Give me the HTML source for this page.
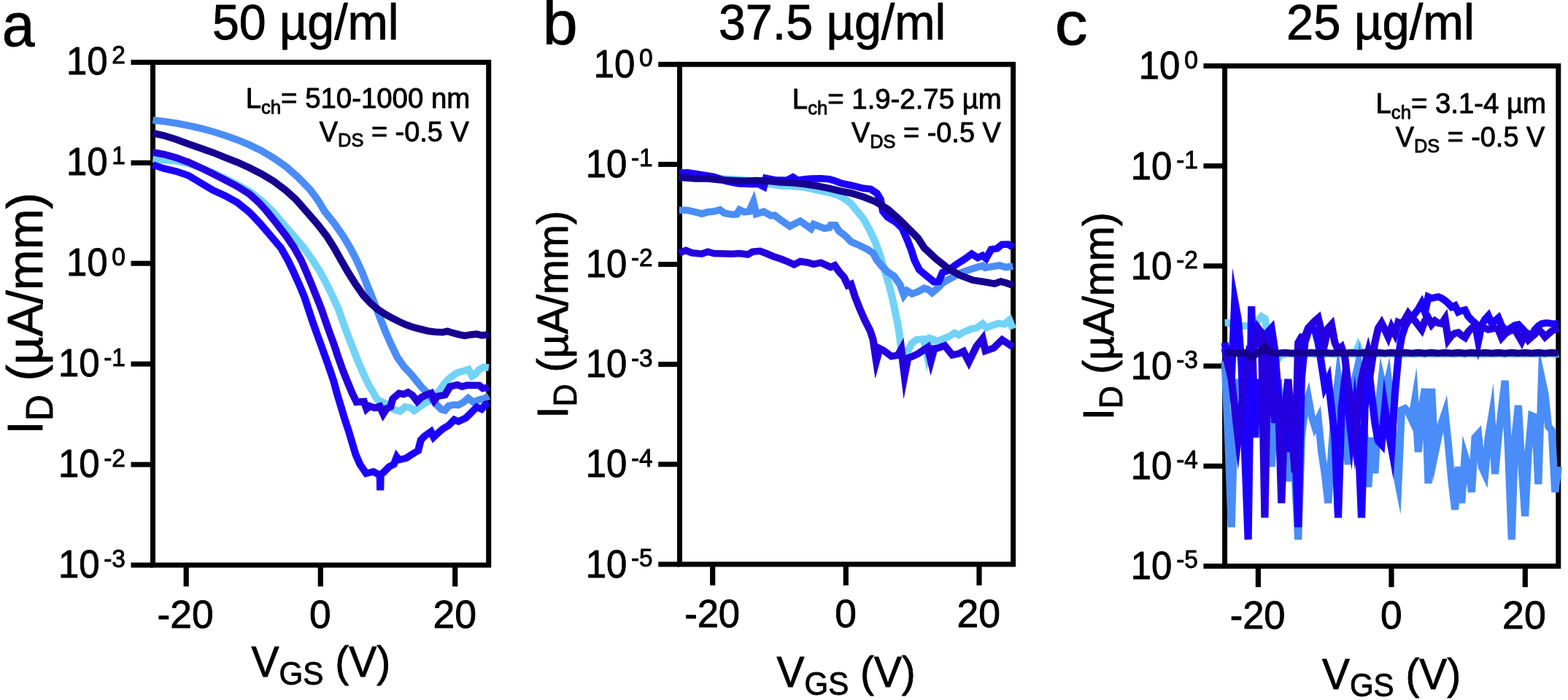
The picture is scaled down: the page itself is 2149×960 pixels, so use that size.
<!DOCTYPE html>
<html lang="en"><head><meta charset="utf-8"><title>Transfer curves</title>
<style>
html,body{margin:0;padding:0;background:#fff;}
body{width:2149px;height:960px;overflow:hidden;}
svg{display:block;font-family:'Liberation Sans', Arial, Helvetica, sans-serif;filter:blur(0.45px);}
</style></head>
<body>
<svg width="2149" height="960" viewBox="0 0 2149 960">
<rect x="-5" y="-5" width="2159" height="970" fill="#ffffff"/>
<g stroke="#000" stroke-width="7.0" fill="none">
<rect x="209.5" y="85.4" width="460.20" height="689.60"/>
<line x1="179.5" y1="85.40" x2="209.5" y2="85.40"/>
<line x1="179.5" y1="223.32" x2="209.5" y2="223.32"/>
<line x1="179.5" y1="361.24" x2="209.5" y2="361.24"/>
<line x1="179.5" y1="499.16" x2="209.5" y2="499.16"/>
<line x1="179.5" y1="637.08" x2="209.5" y2="637.08"/>
<line x1="179.5" y1="775.00" x2="209.5" y2="775.00"/>
<line x1="255.2" y1="775.0" x2="255.2" y2="804.3" stroke-width="7.2"/>
<line x1="439.3" y1="775.0" x2="439.3" y2="804.3" stroke-width="7.2"/>
<line x1="623.7" y1="775.0" x2="623.7" y2="804.3" stroke-width="7.2"/>
</g>
<g stroke="#000" stroke-width="7.0" fill="none">
<rect x="931.5" y="88.3" width="457.10" height="685.60"/>
<line x1="902.25" y1="88.30" x2="931.5" y2="88.30"/>
<line x1="902.25" y1="225.42" x2="931.5" y2="225.42"/>
<line x1="902.25" y1="362.54" x2="931.5" y2="362.54"/>
<line x1="902.25" y1="499.66" x2="931.5" y2="499.66"/>
<line x1="902.25" y1="636.78" x2="931.5" y2="636.78"/>
<line x1="902.25" y1="773.90" x2="931.5" y2="773.90"/>
<line x1="976.7" y1="773.9" x2="976.7" y2="802.8" stroke-width="7.2"/>
<line x1="1159.3" y1="773.9" x2="1159.3" y2="802.8" stroke-width="7.2"/>
<line x1="1342.0" y1="773.9" x2="1342.0" y2="802.8" stroke-width="7.2"/>
</g>
<g stroke="#000" stroke-width="7.0" fill="none">
<rect x="1678.6" y="90.4" width="457.20" height="686.00"/>
<line x1="1649.4" y1="90.40" x2="1678.6" y2="90.40"/>
<line x1="1649.4" y1="227.60" x2="1678.6" y2="227.60"/>
<line x1="1649.4" y1="364.80" x2="1678.6" y2="364.80"/>
<line x1="1649.4" y1="502.00" x2="1678.6" y2="502.00"/>
<line x1="1649.4" y1="639.20" x2="1678.6" y2="639.20"/>
<line x1="1649.4" y1="776.40" x2="1678.6" y2="776.40"/>
<line x1="1724.4" y1="776.4" x2="1724.4" y2="805.2" stroke-width="7.2"/>
<line x1="1907.0" y1="776.4" x2="1907.0" y2="805.2" stroke-width="7.2"/>
<line x1="2090.3" y1="776.4" x2="2090.3" y2="805.2" stroke-width="7.2"/>
</g>
<g fill="none" stroke-linejoin="miter" stroke-miterlimit="10" stroke-linecap="butt" stroke-width="9.6" transform="scale(1.06,1)">
<polyline points="197.6,218.0 212.3,219.5 228.0,220.8 243.7,224.5 259.4,230.0 275.2,236.8 290.8,244.7 306.6,253.0 322.4,262.5 338.0,275.0 353.0,290.5 366.0,306.7 379.7,323.3 393.1,340.0 404.1,356.7 414.2,373.3 422.6,390.0 430.2,406.7 437.3,423.3 442.9,440.0 448.6,456.7 454.7,473.3 460.8,490.0 467.5,506.7 474.5,523.3 481.6,536.7 487.8,547.9 498.4,553.3 509.4,561.7 517.2,564.0 523.7,557.9 529.9,559.0 535.6,563.3 542.5,558.0 550.0,552.5 560.4,546.5 569.2,534.0 575.5,525.0 581.8,518.3 588.0,513.3 594.3,510.0 600.7,508.3 605.8,506.6 610.4,515.7 614.7,513.2 619.6,506.8 625.8,503.4 632.0,504.2" stroke="#72d3f8"/>
<polyline points="197.6,164.7 212.3,166.5 228.0,169.0 243.7,172.2 259.4,176.0 275.2,180.5 290.8,185.8 306.6,191.7 322.4,198.7 338.0,206.7 353.8,216.7 369.5,228.3 385.2,243.0 400.9,260.0 411.3,275.0 419.8,290.0 432.4,306.7 443.4,323.3 452.8,340.0 461.0,356.7 468.1,373.3 474.3,390.0 480.7,406.7 486.8,423.3 492.9,440.0 499.1,456.7 506.1,473.3 513.7,490.0 522.6,503.3 531.6,513.3 544.3,530.0 551.9,538.3 558.2,546.7 564.4,555.0 570.8,561.6 575.3,562.8 580.3,556.6 586.5,555.0 592.7,555.6 599.1,551.7 605.4,546.0 611.7,551.2 619.5,548.3 625.8,546.7 632.0,543.3" stroke="#4a8df8"/>
<polyline points="197.6,226.0 212.3,231.2 228.0,235.0 243.7,240.8 259.4,250.8 275.2,260.8 290.8,268.3 306.6,277.5 322.4,291.0 336.5,306.7 349.8,323.3 363.2,340.0 372.2,356.7 379.7,373.3 386.8,390.0 393.4,406.7 398.6,423.3 403.8,440.0 409.4,456.7 415.1,473.3 420.8,490.0 426.4,506.7 431.6,523.3 435.8,540.0 440.6,556.7 445.3,573.3 450.5,590.0 455.2,606.7 459.9,623.3 465.6,637.0 473.5,649.3 482.7,646.9 488.2,650.0 491.3,651.0 491.7,672.3 492.1,650.0 495.3,648.5 503.1,640.0 509.3,636.6 513.0,626.7 515.8,630.6 525.2,628.3 534.6,621.7 540.6,618.1 544.2,603.4 548.8,598.3 557.2,591.9 560.7,599.5 566.0,594.2 572.4,588.3 580.2,583.3 587.4,575.6 592.7,578.0 602.2,573.3 608.5,566.7 616.4,558.2 622.5,561.0 628.2,554.3 632.0,553.3" stroke="#1c00ff"/>
<polyline points="197.6,208.7 212.3,211.7 228.0,216.3 243.7,222.5 259.4,230.0 275.2,238.3 290.8,246.7 306.6,255.5 322.4,266.0 334.9,278.0 345.1,290.0 357.7,306.7 369.8,323.3 380.5,340.0 389.4,356.7 396.2,373.3 402.8,390.0 409.2,406.7 415.4,423.3 420.8,440.0 426.4,456.7 432.1,473.3 437.3,490.0 442.9,506.7 449.1,523.3 455.7,540.0 461.0,551.4 470.6,550.6 474.0,560.7 478.0,556.9 484.2,559.4 491.0,557.2 495.5,567.6 500.1,560.1 504.9,558.1 507.9,546.8 515.9,539.4 522.0,540.8 527.5,538.0 533.0,541.7 539.5,550.4 544.8,545.0 551.9,541.2 557.4,539.1 561.6,549.1 566.1,543.4 575.3,541.7 581.9,530.2 591.2,527.7 597.5,530.2 603.8,528.3 619.5,528.5 624.3,532.7 632.0,531.3" stroke="#2400e0"/>
<polyline points="197.6,182.5 212.3,186.0 228.0,191.3 243.7,197.5 259.4,203.3 275.2,209.2 290.8,215.8 306.6,222.5 322.4,230.0 338.0,238.5 353.8,248.5 369.5,261.0 382.1,273.0 396.2,290.0 409.9,306.7 422.2,323.3 432.1,340.0 441.0,356.7 450.0,373.3 459.9,390.0 469.8,405.0 479.2,416.0 488.7,424.5 498.1,431.0 507.5,436.5 517.0,441.5 525.5,445.5 534.6,449.0 544.1,451.5 553.5,454.0 562.9,455.2 572.4,455.7 578.6,454.3 584.9,456.5 594.3,459.0 600.7,460.4 608.5,459.0 616.3,458.2 622.6,459.9 632.0,459.0" stroke="#17008f"/>
</g>
<g fill="none" stroke-linejoin="miter" stroke-miterlimit="10" stroke-linecap="butt" stroke-width="9.6" transform="scale(1.06,1)">
<polyline points="878.1,242.5 899.3,243.3 930.8,244.7 962.3,246.7 978.0,249.2 993.7,252.2 1009.4,255.0 1025.2,255.5 1040.8,257.0 1056.6,260.8 1072.4,264.2 1084.9,268.5 1092.7,273.0 1100.7,279.7 1108.5,290.0 1116.3,300.0 1124.2,315.0 1132.1,333.0 1136.8,346.7 1140.6,360.0 1144.6,373.3 1149.3,390.0 1153.3,406.7 1156.6,423.3 1159.9,440.0 1162.7,456.7 1164.6,473.3 1166.7,484.9 1170.4,488.4 1179.2,470.5 1185.6,465.6 1194.2,465.0 1198.4,485.5 1202.7,464.0 1206.1,465.0 1210.7,467.9 1218.6,465.0 1226.4,461.7 1234.3,456.5 1239.6,459.5 1246.7,455.0 1256.1,451.0 1262.5,449.9 1270.4,444.0 1275.3,449.4 1284.0,446.0 1291.0,443.4 1298.5,444.7 1305.1,439.0 1309.7,451.0" stroke="#72d3f8"/>
<polyline points="878.1,288.3 888.4,288.3 899.3,290.8 907.3,293.2 915.1,290.8 922.9,290.0 930.8,287.8 937.1,292.5 946.5,294.2 952.6,293.9 956.2,287.7 962.3,290.7 968.6,290.0 974.1,277.0 977.8,293.3 987.4,290.3 996.9,295.7 1001.5,295.2 1009.4,301.7 1021.3,310.3 1034.6,303.1 1048.6,313.7 1052.1,307.5 1066.0,313.2 1072.2,312.2 1074.1,308.7 1080.0,308.7 1084.9,317.0 1092.7,323.3 1100.7,331.7 1111.6,336.7 1121.0,341.7 1128.9,347.1 1133.7,356.7 1140.6,365.5 1148.1,373.3 1155.7,378.5 1163.5,390.0 1168.7,404.9 1173.0,398.8 1179.3,403.0 1187.1,400.0 1195.0,395.3 1199.7,396.7 1205.2,401.5 1212.3,395.0 1218.6,388.3 1226.4,383.3 1242.2,374.0 1257.8,368.3 1270.4,364.4 1273.7,367.2 1283.0,365.5 1292.5,364.0 1300.3,366.6 1309.7,365.0" stroke="#4a8df8"/>
<polyline points="878.1,237.5 888.4,236.7 907.3,239.7 922.9,242.5 938.7,248.3 954.4,251.7 970.1,252.5 981.1,252.5 987.5,256.0 990.4,244.3 1001.6,246.7 1017.2,247.4 1025.2,243.0 1031.5,247.3 1040.8,245.8 1048.8,245.0 1061.3,244.7 1072.4,245.8 1080.2,248.3 1088.0,251.5 1100.7,254.2 1116.3,258.3 1125.7,259.3 1133.7,265.0 1138.4,273.3 1141.6,290.0 1147.8,298.0 1158.5,305.0 1166.7,313.3 1172.9,328.3 1178.3,343.0 1182.4,356.7 1188.7,370.0 1198.1,378.3 1207.6,386.5 1213.6,386.2 1218.8,373.5 1226.4,371.0 1235.8,363.0 1248.4,354.5 1256.4,348.2 1264.2,353.4 1270.4,350.4 1274.9,354.5 1281.6,342.0 1289.3,340.7 1295.6,335.2 1303.5,335.1 1309.7,339.2" stroke="#1c00ff"/>
<polyline points="878.1,346.7 886.8,343.5 894.6,346.7 907.3,348.2 915.1,345.2 922.9,347.5 946.5,348.3 955.9,347.5 966.9,349.0 973.3,345.1 982.7,344.3 990.6,347.5 1000.0,351.7 1009.4,355.0 1017.3,358.3 1026.7,362.9 1034.7,358.5 1044.1,360.0 1051.9,362.4 1061.3,360.2 1073.9,366.4 1079.2,364.1 1084.9,372.5 1091.2,380.0 1096.2,391.3 1100.3,389.6 1105.4,406.7 1111.6,423.3 1117.9,438.5 1125.0,453.3 1128.7,465.0 1133.0,495.0 1137.4,478.0 1142.9,481.0 1152.6,488.7 1160.9,487.2 1165.3,479.0 1169.5,515.0 1173.9,491.0 1179.2,489.0 1187.1,485.0 1199.3,476.5 1203.6,495.0 1207.9,478.0 1212.3,477.5 1221.5,474.0 1231.3,486.9 1239.8,485.0 1245.7,481.9 1252.7,496.2 1262.5,475.0 1270.5,464.4 1274.2,481.2 1284.6,477.4 1295.7,466.0 1309.7,475.8" stroke="#2400e0"/>
<polyline points="878.1,243.3 899.3,245.0 915.1,245.0 930.8,246.7 946.5,247.5 962.3,248.3 978.0,247.5 993.7,248.3 1009.4,250.0 1025.2,250.8 1040.8,252.5 1056.6,255.0 1072.4,258.3 1084.9,261.7 1100.7,265.0 1116.3,270.0 1132.1,276.7 1147.8,286.7 1163.5,301.7 1179.2,318.3 1187.1,327.0 1195.0,340.0 1210.7,355.5 1226.4,368.5 1242.2,378.0 1257.8,384.2 1273.6,386.7 1286.1,389.1 1294.1,386.0 1301.9,388.3 1309.7,391.7" stroke="#17008f"/>
</g>
<g fill="none" stroke-linejoin="miter" stroke-miterlimit="10" stroke-linecap="butt" stroke-width="9.6" transform="scale(1.06,1)">
<polyline points="1583.6,442.6 1587.9,442.5 1592.2,445.0 1596.5,446.6 1600.8,446.5 1605.2,447.0 1609.5,446.6 1613.8,447.5 1618.1,450.0 1622.4,445.6 1626.7,439.5 1631.0,434.0 1635.3,436.6 1639.7,459.5 1644.0,480.0 1648.3,500.6 1652.6,491.5 1656.9,487.0 1661.2,486.2 1665.5,485.1 1669.8,485.6 1674.2,486.2 1678.5,485.1 1682.8,485.6 1687.1,486.2 1691.4,485.1 1695.7,485.6 1700.0,486.2 1704.4,485.1 1708.7,485.6 1713.0,486.2 1717.3,485.1 1721.6,485.6 1725.9,486.2 1730.2,485.1 1734.5,485.6 1738.9,486.2 1743.2,485.1 1747.5,485.6 1751.8,486.2 1756.1,475.5 1760.4,485.6 1764.7,486.2 1769.1,485.1 1773.4,485.6 1777.7,486.2 1782.0,485.1 1786.3,485.6 1790.6,486.2 1794.9,485.1 1799.2,485.6 1803.6,486.2 1807.9,485.1 1812.2,485.6 1816.5,486.2 1820.8,485.1 1825.1,485.6 1829.4,486.2 1833.8,485.1 1838.1,485.6 1842.4,486.2 1846.7,485.1 1851.0,485.6 1855.3,486.2 1859.6,485.1 1863.9,485.6 1868.3,486.2 1872.6,485.1 1876.9,485.6 1881.2,486.2 1885.5,485.1 1889.8,485.6 1894.1,486.2 1898.4,485.1 1902.8,485.6 1907.1,486.2 1911.4,485.1 1915.7,485.6 1920.0,486.2 1924.3,485.1 1928.6,485.6 1933.0,486.2 1937.3,485.1 1941.6,485.6 1945.9,486.2 1950.2,485.1 1954.5,485.6 1958.8,486.2 1963.1,485.1 1967.5,485.6 1971.8,486.2 1976.1,485.1 1980.4,485.6 1984.7,486.2 1989.0,485.1 1993.3,485.6 1997.7,486.2 2002.0,485.1 2006.3,485.6 2010.6,486.2 2014.9,485.1" stroke="#72d3f8"/>
<polyline points="1583.6,495.0 1587.9,600.0 1592.2,723.0 1596.5,560.0 1600.8,520.0 1605.2,600.0 1609.5,560.0 1613.8,620.0 1618.1,540.0 1622.4,580.0 1626.7,520.0 1631.0,600.0 1635.3,560.0 1639.7,590.0 1644.0,640.0 1648.3,560.0 1652.6,520.0 1656.9,570.0 1661.2,620.0 1665.5,660.0 1669.8,600.0 1674.2,650.0 1678.5,740.0 1682.8,600.0 1687.1,560.0 1691.4,545.0 1695.7,570.0 1700.0,585.0 1704.4,575.0 1708.7,620.0 1713.0,650.0 1717.3,690.0 1721.6,620.0 1725.9,560.0 1730.2,520.0 1734.5,560.0 1738.9,600.0 1743.2,637.0 1747.5,560.0 1751.8,520.0 1756.1,500.0 1760.4,560.0 1764.7,600.0 1769.1,668.0 1773.4,600.0 1777.7,649.0 1782.0,560.0 1786.3,520.0 1790.6,540.0 1794.9,520.0 1799.2,560.0 1803.6,640.0 1807.9,663.0 1812.2,562.0 1816.5,560.0 1820.8,565.0 1825.1,575.0 1829.4,548.0 1833.8,620.0 1838.1,560.0 1842.4,533.0 1846.7,663.0 1851.0,533.0 1855.3,622.0 1859.6,600.0 1863.9,580.0 1868.3,566.0 1872.6,610.0 1876.9,660.0 1881.2,699.0 1885.5,640.0 1889.8,690.0 1894.1,625.0 1898.4,640.0 1902.8,675.0 1907.1,600.0 1911.4,595.0 1915.7,640.0 1920.0,650.0 1924.3,600.0 1928.6,572.0 1933.0,650.0 1937.3,600.0 1941.6,560.0 1945.9,522.0 1950.2,620.0 1954.5,740.0 1958.8,600.0 1963.1,556.0 1967.5,640.0 1971.8,708.0 1976.1,620.0 1980.4,570.0 1984.7,572.0 1989.0,664.0 1993.3,519.0 1997.7,541.0 2002.0,585.0 2006.3,590.0 2010.6,675.0 2014.9,640.0" stroke="#4a8df8"/>
<polyline points="1583.6,470.0 1587.9,500.0 1592.2,520.0 1596.5,413.0 1600.8,438.0 1605.2,500.0 1609.5,620.0 1613.8,740.0 1618.1,420.0 1622.4,600.0 1626.7,520.0 1631.0,560.0 1635.3,500.0 1639.7,455.0 1644.0,450.0 1648.3,480.0 1652.6,540.0 1656.9,600.0 1661.2,560.0 1665.5,620.0 1669.8,560.0 1674.2,600.0 1678.5,723.0 1682.8,520.0 1687.1,470.0 1691.4,455.0 1695.7,448.0 1700.0,452.0 1704.4,470.0 1708.7,500.0 1713.0,530.0 1717.3,520.0 1721.6,560.0 1725.9,600.0 1730.2,710.0 1734.5,560.0 1738.9,520.0 1743.2,560.0 1747.5,600.0 1751.8,560.0 1756.1,600.0 1760.4,710.0 1764.7,560.0 1769.1,500.0 1773.4,540.0 1777.7,580.0 1782.0,605.0 1786.3,610.0 1790.6,560.0 1794.9,590.0 1799.2,615.0 1803.6,540.0 1807.9,490.0 1812.2,462.0 1816.5,448.0 1820.8,440.0 1825.1,436.0 1829.4,430.0 1833.8,424.0 1838.1,416.0 1842.4,428.0 1846.7,407.0 1851.0,409.0 1855.3,408.0 1859.6,407.0 1863.9,409.0 1868.3,412.0 1872.6,416.0 1876.9,421.0 1881.2,419.0 1885.5,428.0 1889.8,426.0 1894.1,425.0 1898.4,434.0 1902.8,439.0 1907.1,443.0 1911.4,468.0 1915.7,446.0 1920.0,438.0 1924.3,433.0 1928.6,443.0 1933.0,440.0 1937.3,436.0 1941.6,447.0 1945.9,452.0 1950.2,452.0 1954.5,449.0 1958.8,446.0 1963.1,445.0 1967.5,450.0 1971.8,455.0 1976.1,458.0 1980.4,460.0 1984.7,452.0 1989.0,447.0 1993.3,444.0 1997.7,443.0 2002.0,443.0 2006.3,444.0 2010.6,444.0 2014.9,444.0" stroke="#1c00ff"/>
<polyline points="1583.6,478.0 1587.9,500.0 1592.2,520.0 1596.5,560.0 1600.8,600.0 1605.2,560.0 1609.5,520.0 1613.8,490.0 1618.1,500.0 1622.4,470.0 1626.7,450.0 1631.0,456.0 1635.3,710.0 1639.7,462.0 1644.0,520.0 1648.3,580.0 1652.6,540.0 1656.9,690.0 1661.2,560.0 1665.5,520.0 1669.8,580.0 1674.2,648.0 1678.5,470.0 1682.8,462.0 1687.1,462.0 1691.4,450.0 1695.7,445.0 1700.0,440.0 1704.4,436.0 1708.7,455.0 1713.0,470.0 1717.3,450.0 1721.6,445.0 1725.9,470.0 1730.2,480.0 1734.5,476.0 1738.9,490.0 1743.2,530.0 1747.5,560.0 1751.8,600.0 1756.1,560.0 1760.4,520.0 1764.7,500.0 1769.1,482.0 1773.4,500.0 1777.7,470.0 1782.0,450.0 1786.3,443.0 1790.6,452.0 1794.9,462.0 1799.2,449.0 1803.6,458.0 1807.9,442.0 1812.2,444.0 1816.5,438.0 1820.8,430.0 1825.1,436.0 1829.4,440.0 1833.8,446.0 1838.1,452.0 1842.4,440.0 1846.7,436.0 1851.0,445.0 1855.3,440.0 1859.6,443.0 1863.9,444.0 1868.3,437.0 1872.6,466.0 1876.9,460.0 1881.2,457.0 1885.5,456.0 1889.8,460.0 1894.1,463.0 1898.4,455.0 1902.8,450.0 1907.1,447.0 1911.4,446.0 1915.7,448.0 1920.0,450.0 1924.3,452.0 1928.6,451.0 1933.0,450.0 1937.3,452.0 1941.6,463.0 1945.9,458.0 1950.2,455.0 1954.5,453.0 1958.8,452.0 1963.1,460.0 1967.5,468.0 1971.8,458.0 1976.1,466.0 1980.4,462.0 1984.7,458.0 1989.0,452.0 1993.3,456.0 1997.7,462.0 2002.0,458.0 2006.3,454.0 2010.6,452.0 2014.9,450.0" stroke="#2400e0"/>
<polyline points="1583.6,484.0 1587.9,484.0 1592.2,483.6 1596.5,484.0 1600.8,484.5 1605.2,484.0 1609.5,483.6 1613.8,486.0 1618.1,490.0 1622.4,487.0 1626.7,483.6 1631.0,482.0 1635.3,476.5 1639.7,482.0 1644.0,483.6 1648.3,484.0 1652.6,484.5 1656.9,484.0 1661.2,483.6 1665.5,484.0 1669.8,484.5 1674.2,484.0 1678.5,483.6 1682.8,484.0 1687.1,484.5 1691.4,484.0 1695.7,483.6 1700.0,484.0 1704.4,484.5 1708.7,484.0 1713.0,483.6 1717.3,484.0 1721.6,484.5 1725.9,484.0 1730.2,483.6 1734.5,484.0 1738.9,484.5 1743.2,484.0 1747.5,483.6 1751.8,484.0 1756.1,484.5 1760.4,484.0 1764.7,483.6 1769.1,484.0 1773.4,484.5 1777.7,484.0 1782.0,483.6 1786.3,484.0 1790.6,484.5 1794.9,484.0 1799.2,483.6 1803.6,484.0 1807.9,484.5 1812.2,484.0 1816.5,483.6 1820.8,484.0 1825.1,484.5 1829.4,484.0 1833.8,483.6 1838.1,484.0 1842.4,484.5 1846.7,484.0 1851.0,483.6 1855.3,484.0 1859.6,484.5 1863.9,484.0 1868.3,483.6 1872.6,484.0 1876.9,484.5 1881.2,484.0 1885.5,483.6 1889.8,484.0 1894.1,484.5 1898.4,484.0 1902.8,483.6 1907.1,484.0 1911.4,484.5 1915.7,484.0 1920.0,483.6 1924.3,484.0 1928.6,484.5 1933.0,484.0 1937.3,483.6 1941.6,484.0 1945.9,484.5 1950.2,484.0 1954.5,483.6 1958.8,484.0 1963.1,484.5 1967.5,484.0 1971.8,483.6 1976.1,484.0 1980.4,484.5 1984.7,484.0 1989.0,483.6 1993.3,484.0 1997.7,484.5 2002.0,484.0 2006.3,483.6 2010.6,484.0 2014.9,484.5" stroke="#17008f"/>
</g>
<g fill="#000" stroke="#000" stroke-width="0.9" stroke-linejoin="round">
<text transform="translate(171.98,87.45) scale(0.9583,1)" font-size="34.93" text-anchor="end">2</text>
<text transform="translate(147.50,102.26) scale(0.9485,1)" font-size="53.66" text-anchor="end">10</text>
<text transform="translate(171.98,225.49) scale(0.9583,1)" font-size="34.93" text-anchor="end">1</text>
<text transform="translate(147.50,240.30) scale(0.9485,1)" font-size="53.66" text-anchor="end">10</text>
<text transform="translate(171.98,363.53) scale(0.9583,1)" font-size="34.93" text-anchor="end">0</text>
<text transform="translate(147.50,378.34) scale(0.9485,1)" font-size="53.66" text-anchor="end">10</text>
<text transform="translate(171.98,501.57) scale(0.9583,1)" font-size="34.93" text-anchor="end">-1</text>
<text transform="translate(136.52,516.38) scale(0.9485,1)" font-size="53.66" text-anchor="end">10</text>
<text transform="translate(171.98,639.61) scale(0.9583,1)" font-size="34.93" text-anchor="end">-2</text>
<text transform="translate(136.52,654.42) scale(0.9485,1)" font-size="53.66" text-anchor="end">10</text>
<text transform="translate(171.98,777.65) scale(0.9583,1)" font-size="34.93" text-anchor="end">-3</text>
<text transform="translate(136.52,792.46) scale(0.9485,1)" font-size="53.66" text-anchor="end">10</text>
<text transform="translate(215.60,860.86) scale(0.9857,1)" font-size="54.08">-20</text>
<text transform="translate(423.97,860.86) scale(0.9848,1)" font-size="54.08">0</text>
<text transform="translate(593.42,860.86) scale(0.9903,1)" font-size="54.08">20</text>
<text transform="translate(894.73,91.15) scale(0.9583,1)" font-size="34.93" text-anchor="end">0</text>
<text transform="translate(870.25,105.96) scale(0.9485,1)" font-size="53.66" text-anchor="end">10</text>
<text transform="translate(894.73,228.27) scale(0.9583,1)" font-size="34.93" text-anchor="end">-1</text>
<text transform="translate(859.27,243.08) scale(0.9485,1)" font-size="53.66" text-anchor="end">10</text>
<text transform="translate(894.73,365.39) scale(0.9583,1)" font-size="34.93" text-anchor="end">-2</text>
<text transform="translate(859.27,380.20) scale(0.9485,1)" font-size="53.66" text-anchor="end">10</text>
<text transform="translate(894.73,502.51) scale(0.9583,1)" font-size="34.93" text-anchor="end">-3</text>
<text transform="translate(859.27,517.32) scale(0.9485,1)" font-size="53.66" text-anchor="end">10</text>
<text transform="translate(894.73,639.63) scale(0.9583,1)" font-size="34.93" text-anchor="end">-4</text>
<text transform="translate(859.27,654.44) scale(0.9485,1)" font-size="53.66" text-anchor="end">10</text>
<text transform="translate(894.73,776.75) scale(0.9583,1)" font-size="34.93" text-anchor="end">-5</text>
<text transform="translate(859.27,791.56) scale(0.9485,1)" font-size="53.66" text-anchor="end">10</text>
<text transform="translate(938.13,859.96) scale(0.9823,1)" font-size="53.52">-20</text>
<text transform="translate(1144.37,859.96) scale(0.9952,1)" font-size="53.52">0</text>
<text transform="translate(1311.42,859.96) scale(1.0007,1)" font-size="53.52">20</text>
<text transform="translate(1641.88,93.65) scale(0.9583,1)" font-size="34.93" text-anchor="end">0</text>
<text transform="translate(1617.40,108.46) scale(0.9485,1)" font-size="53.66" text-anchor="end">10</text>
<text transform="translate(1641.88,230.77) scale(0.9583,1)" font-size="34.93" text-anchor="end">-1</text>
<text transform="translate(1606.42,245.58) scale(0.9485,1)" font-size="53.66" text-anchor="end">10</text>
<text transform="translate(1641.88,367.89) scale(0.9583,1)" font-size="34.93" text-anchor="end">-2</text>
<text transform="translate(1606.42,382.70) scale(0.9485,1)" font-size="53.66" text-anchor="end">10</text>
<text transform="translate(1641.88,505.01) scale(0.9583,1)" font-size="34.93" text-anchor="end">-3</text>
<text transform="translate(1606.42,519.82) scale(0.9485,1)" font-size="53.66" text-anchor="end">10</text>
<text transform="translate(1641.88,642.13) scale(0.9583,1)" font-size="34.93" text-anchor="end">-4</text>
<text transform="translate(1606.42,656.94) scale(0.9485,1)" font-size="53.66" text-anchor="end">10</text>
<text transform="translate(1641.88,779.25) scale(0.9583,1)" font-size="34.93" text-anchor="end">-5</text>
<text transform="translate(1606.42,794.06) scale(0.9485,1)" font-size="53.66" text-anchor="end">10</text>
<text transform="translate(1685.63,862.26) scale(0.9823,1)" font-size="53.52">-20</text>
<text transform="translate(1891.97,862.26) scale(0.9952,1)" font-size="53.52">0</text>
<text transform="translate(2059.12,862.26) scale(1.0007,1)" font-size="53.52">20</text>
<text transform="translate(2.87,62.66) scale(0.9615,1)" font-size="83.82">a</text>
<text transform="translate(743.65,61.16) scale(1.0274,1)" font-size="83.82">b</text>
<text transform="translate(1445.86,61.42) scale(1.0792,1)" font-size="83.18">c</text>
<text transform="translate(290.95,53.62) scale(0.9747,1)" font-size="68.03">50 µg/ml</text>
<text transform="translate(984.94,54.01) scale(0.9682,1)" font-size="68.59">37.5 µg/ml</text>
<text transform="translate(1763.06,53.52) scale(0.9854,1)" font-size="67.89">25 µg/ml</text>
<text transform="translate(336.63,147.90) scale(0.9917,1)" font-size="38.70">L<tspan font-size="0.67em" dy="0.3060em">ch</tspan><tspan dy="-0.2050em">= 510-1000 nm</tspan></text>
<text transform="translate(437.81,193.60) scale(0.9870,1)" font-size="38.41">V<tspan font-size="0.67em" dy="0.3060em">DS</tspan><tspan dy="-0.2050em"> = -0.5 V</tspan></text>
<text transform="translate(1085.83,149.40) scale(0.9907,1)" font-size="38.70">L<tspan font-size="0.67em" dy="0.3060em">ch</tspan><tspan dy="-0.2050em">= 1.9-2.75 µm</tspan></text>
<text transform="translate(1166.91,194.70) scale(0.9907,1)" font-size="38.26">V<tspan font-size="0.67em" dy="0.3060em">DS</tspan><tspan dy="-0.2050em"> = -0.5 V</tspan></text>
<text transform="translate(1885.53,155.40) scale(0.9865,1)" font-size="38.84">L<tspan font-size="0.67em" dy="0.3060em">ch</tspan><tspan dy="-0.2050em">= 3.1-4 µm</tspan></text>
<text transform="translate(1912.71,201.20) scale(0.9850,1)" font-size="38.41">V<tspan font-size="0.67em" dy="0.3060em">DS</tspan><tspan dy="-0.2050em"> = -0.5 V</tspan></text>
<text transform="translate(344.52,927.50) scale(0.9566,1)" font-size="59.57">V<tspan font-size="0.74em" dy="0.2500em">GS</tspan><tspan dy="-0.1850em"> (V)</tspan></text>
<text transform="translate(1064.52,942.10) scale(0.9634,1)" font-size="58.99">V<tspan font-size="0.74em" dy="0.2500em">GS</tspan><tspan dy="-0.1850em"> (V)</tspan></text>
<text transform="translate(1812.02,944.55) scale(0.9646,1)" font-size="58.91">V<tspan font-size="0.74em" dy="0.2500em">GS</tspan><tspan dy="-0.1850em"> (V)</tspan></text>
<text transform="translate(58.00,595.78) rotate(-90) scale(0.9791,1)" font-size="68.48">I<tspan font-size="0.745em" dy="0.2779em">D</tspan><tspan dy="-0.2070em"> (µA/mm)</tspan></text>
<text transform="translate(778.00,573.43) rotate(-90) scale(0.9862,1)" font-size="58.33">I<tspan font-size="0.745em" dy="0.2779em">D</tspan><tspan dy="-0.2070em"> (µA/mm)</tspan></text>
<text transform="translate(1525.50,576.19) rotate(-90) scale(0.9885,1)" font-size="58.33">I<tspan font-size="0.745em" dy="0.2779em">D</tspan><tspan dy="-0.2070em"> (µA/mm)</tspan></text>
</g>
</svg>
</body></html>
